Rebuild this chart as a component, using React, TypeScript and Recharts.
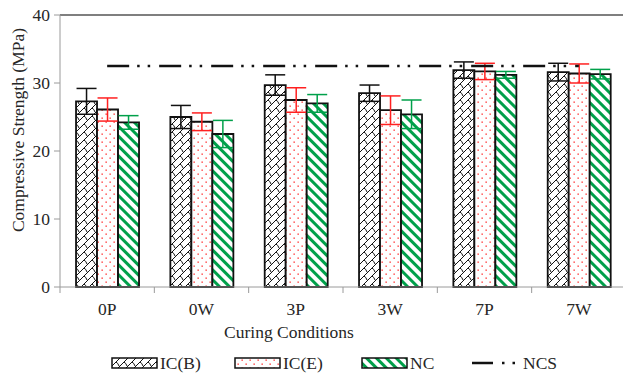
import { ComposedChart, Bar, Line, XAxis, YAxis, ErrorBar, ReferenceLine, Label } from "recharts";

const CATEGORIES = ["0P", "0W", "3P", "3W", "7P", "7W"];
const ICB = [27.3, 25.0, 29.7, 28.5, 31.9, 31.6];
const ICB_ERR = [1.9, 1.7, 1.5, 1.2, 1.2, 1.3];
const ICE = [26.1, 24.3, 27.5, 26.0, 31.7, 31.4];
const ICE_ERR = [1.7, 1.3, 1.8, 2.1, 1.2, 1.4];
const NC = [24.2, 22.5, 27.0, 25.4, 31.2, 31.3];
const NC_ERR = [1.0, 2.0, 1.3, 2.1, 0.5, 0.7];
const NCS = [32.5, 32.5, 32.5, 32.5, 32.5, 32.5];
const Y_TICKS = [0, 10, 20, 30, 40];

const data = CATEGORIES.map((name, i) => ({
  name,
  icb: ICB[i],
  icbErr: ICB_ERR[i],
  ice: ICE[i],
  iceErr: ICE_ERR[i],
  nc: NC[i],
  ncErr: NC_ERR[i],
  ncs: NCS[i],
}));

const FONT = '"Liberation Serif", "Times New Roman", serif';
const FS = 17.5;
const GREEN = "#00a04a";
const RED = "#ff2020";
const AXIS = "#9a9a9a";
const TEXT = "#262626";

const CHART_W = 627;
const MARGIN = { top: 15, right: 1, bottom: 57, left: 0 };
const Y_W = 60;
const BAND = (CHART_W - MARGIN.left - MARGIN.right - Y_W) / CATEGORIES.length;
const NCS_DASH = "22 8 2.5 8 2.5 9";

function CatTick(props: any) {
  const { x, y, payload } = props;
  return (
    <g>
      <line x1={x - BAND / 2} x2={x - BAND / 2} y1={y - 16} y2={y - 10} stroke={AXIS} />
      <text x={x} y={y} dy="0.71em" textAnchor="middle" fill={TEXT} fontSize={FS} fontFamily={FONT}>
        {payload.value}
      </text>
    </g>
  );
}

function Patterns() {
  return (
    <defs>
      <pattern id="pat-icb" patternUnits="userSpaceOnUse" width="8" height="8">
        <rect width="8" height="8" fill="#fff" />
        <path d="M0 8 L8 0 M-1 1 L1 -1 M7 9 L9 7 M4 4 Q6 5 7 8" stroke="#111" strokeWidth="1" fill="none" />
      </pattern>
      <pattern id="pat-ice" patternUnits="userSpaceOnUse" width="8" height="8">
        <rect width="8" height="8" fill="#fff" />
        <rect x="1.5" y="1.5" width="1.3" height="1.3" fill={RED} />
        <rect x="5.5" y="5.5" width="1.3" height="1.3" fill={RED} />
      </pattern>
      <pattern id="pat-nc" patternUnits="userSpaceOnUse" width="7" height="7" patternTransform="rotate(-45)">
        <rect width="7" height="7" fill="#fff" />
        <rect width="3" height="7" fill={GREEN} />
      </pattern>
    </defs>
  );
}

function LegendRow() {
  const items = [
    { x: 112, fill: "url(#pat-icb)", label: "IC(B)" },
    { x: 235, fill: "url(#pat-ice)", label: "IC(E)" },
    { x: 362, fill: "url(#pat-nc)", label: "NC" },
  ];
  return (
    <svg width={623} height={24} style={{ position: "absolute", left: 0, top: 350 }}>
      <Patterns />
      {items.map((it) => (
        <g key={it.label}>
          <rect x={it.x} y={8} width={45} height={10} fill={it.fill} stroke="#111" strokeWidth={1.5} />
          <text x={it.x + 48} y={19} fill={TEXT} fontSize={FS} fontFamily={FONT}>
            {it.label}
          </text>
        </g>
      ))}
      <line x1={472} x2={516} y1={13} y2={13} stroke="#111" strokeWidth={2.5} strokeDasharray="21 9 2.5 8 2.5 9" />
      <text x={523} y={19} fill={TEXT} fontSize={FS} fontFamily={FONT}>
        NCS
      </text>
    </svg>
  );
}

export default function App() {
  return (
    <div style={{ position: "fixed", left: 0, top: 0, width: 623, height: 374, overflow: "hidden", background: "#fff" }}>
      <ComposedChart width={CHART_W} height={374} data={data} margin={MARGIN} barCategoryGap="17%" barGap={0}>
        <XAxis
          dataKey="name"
          height={30}
          axisLine={{ stroke: AXIS }}
          tickLine={false}
          tickSize={6}
          tickMargin={10}
          tick={<CatTick />}
          interval={0}
        >
          <Label
            content={() => (
              <text x={289} y={338} textAnchor="middle" fill={TEXT} fontSize={FS} fontFamily={FONT}>
                Curing Conditions
              </text>
            )}
          />
        </XAxis>
        <YAxis
          width={Y_W}
          domain={[0, 40]}
          ticks={Y_TICKS}
          axisLine={{ stroke: AXIS }}
          tickLine={{ stroke: AXIS }}
          tickSize={6}
          tickMargin={4}
          tick={{ fill: TEXT, fontSize: FS, fontFamily: FONT }}
        >
          <Label
            content={() => (
              <text
                x={18}
                y={130}
                transform="rotate(-90 18 130)"
                textAnchor="middle"
                dominantBaseline="central"
                fill={TEXT}
                fontSize={FS}
                fontFamily={FONT}
              >
                Compressive Strength (MPa)
              </text>
            )}
          />
        </YAxis>
        <ReferenceLine y={40} stroke="#555" strokeWidth={1.5} />
        <Bar dataKey="icb" fill="url(#pat-icb)" stroke="#111" strokeWidth={1.8} isAnimationActive={false}>
          <ErrorBar dataKey="icbErr" stroke="#111" strokeWidth={1.5} width={10} />
        </Bar>
        <Bar dataKey="ice" fill="url(#pat-ice)" stroke="#111" strokeWidth={1.8} isAnimationActive={false}>
          <ErrorBar dataKey="iceErr" stroke={RED} strokeWidth={1.5} width={10} />
        </Bar>
        <Bar dataKey="nc" fill="url(#pat-nc)" stroke="#111" strokeWidth={1.8} isAnimationActive={false}>
          <ErrorBar dataKey="ncErr" stroke={GREEN} strokeWidth={1.5} width={10} />
        </Bar>
        <Line
          dataKey="ncs"
          stroke="#111"
          strokeWidth={2.5}
          strokeDasharray={NCS_DASH}
          dot={false}
          activeDot={false}
          isAnimationActive={false}
        />
      </ComposedChart>
      <LegendRow />
    </div>
  );
}
